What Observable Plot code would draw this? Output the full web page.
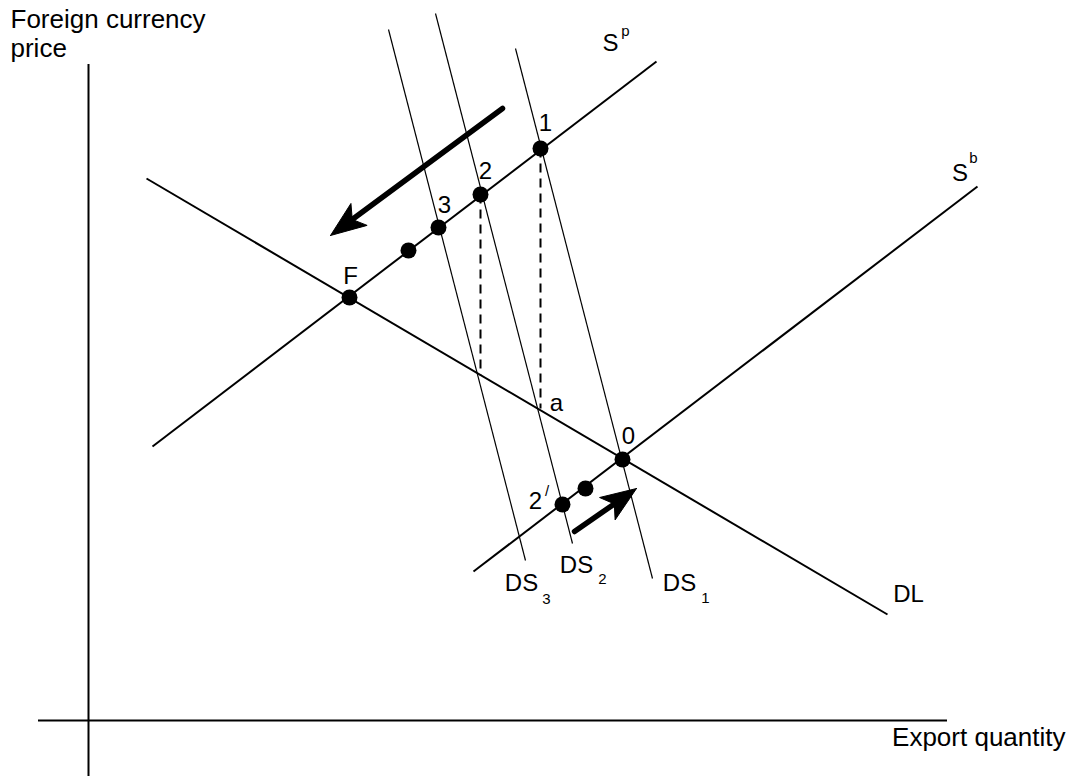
<!DOCTYPE html>
<html><head><meta charset="utf-8">
<script src="https://cdn.jsdelivr.net/npm/d3@7"></script>
<script src="https://cdn.jsdelivr.net/npm/@observablehq/plot@0.6"></script>
<style>html,body{margin:0;padding:0;background:#fff;} svg{display:block}</style>
</head><body><div id="chart"></div>
<script>
// Axes (quantity Q horizontal, foreign-currency price P vertical)
const axisQRange = [-50, 859];
const axisPRange = [-56, 656];

// Curves: endpoints in (Q, P)
const curveNames = ["Sp", "Sb", "DL", "DS1", "DS2", "DS3"];
const curveQ1 = [64, 385, 58, 427, 347, 300];
const curveP1 = [274, 149, 542, 672, 707, 691];
const curveQ2 = [568, 889, 799, 564, 484, 437];
const curveP2 = [659, 534, 106, 142, 177, 160];

// Equilibrium points
const pointNames = ["1", "2", "3", "2b", "F", "0", "0b", "2'"];
const pointQ = [452, 392, 350, 320, 261, 534, 497, 474];
const pointP = [572, 526, 493, 470, 423, 261, 232, 216];

// Dashed drops from points 2 and 1 to DL
const dropQ = [392, 452];
const dropTop = [526, 572];
const dropBottom = [345, 312];

// Movement arrows
const arrowQ1 = [414, 486];
const arrowP1 = [612, 189];
const arrowQ2 = [242, 548];
const arrowP2 = [485, 232];

// Labels
const labelText = ["1", "2", "3", "F", "a", "0", "2", "DS", "DS", "DS", "DL", "S", "S"];
const labelQ = [457, 397, 356, 262, 468, 540, 447, 433, 488, 591, 820, 522, 871.5];
const labelP = [590, 542, 508, 437, 310, 277, 212, 130, 148, 130, 119, 670, 540];

const smallText = ["/", "3", "2", "1", "p", "b"];
const smallQ = [458.5, 458, 514, 617, 537, 885];
const smallP = [225, 117, 137, 118, 685, 558];

const titleText = ["Foreign currency", "price", "Export quantity"];
const titleQ = [-78, -78, 977];
const titleP = [693, 664, -25];
const titleAnchor = ["start", "start", "end"];

// Build tables
const curves = curveNames.map((n, i) => ({name: n, q1: curveQ1[i], p1: curveP1[i], q2: curveQ2[i], p2: curveP2[i], thin: n.startsWith("DS")}));
const points = pointNames.map((n, i) => ({name: n, q: pointQ[i], p: pointP[i]}));
const drops = dropQ.map((q, i) => ({q, top: dropTop[i], bottom: dropBottom[i]}));
const labels = labelText.map((t, i) => ({t, q: labelQ[i], p: labelP[i]}));
const smalls = smallText.map((t, i) => ({t, q: smallQ[i], p: smallP[i]}));
const titles = titleText.map((t, i) => ({t, q: titleQ[i], p: titleP[i], a: titleAnchor[i]}));

// Arrow heads (scale is 1 data unit per pixel on both axes)
const headLen = 38, headHalf = 21 * Math.PI / 180, notch = 27;
const shafts = [], heads = [];
arrowQ1.forEach((q1, i) => {
  const tx = arrowQ2[i], ty = arrowP2[i];
  const dx = q1 - tx, dy = arrowP1[i] - ty, len = Math.hypot(dx, dy);
  const ux = dx / len, uy = dy / len, nx = -uy, ny = ux;
  const c = Math.cos(headHalf), s = Math.sin(headHalf);
  shafts.push({q1, p1: arrowP1[i], q2: tx + notch * ux, p2: ty + notch * uy});
  const poly = [
    [tx, ty],
    [tx + headLen * (c * ux + s * nx), ty + headLen * (c * uy + s * ny)],
    [tx + notch * ux, ty + notch * uy],
    [tx + headLen * (c * ux - s * nx), ty + headLen * (c * uy - s * ny)],
    [tx, ty]
  ];
  poly.forEach(([q, p]) => heads.push({id: i, q, p}));
});

const plot = Plot.plot({
  width: 1075, height: 778, margin: 0,
  x: {domain: [-88, 987], range: [0, 1075], axis: null},
  y: {domain: [-58, 720], range: [778, 0], axis: null},
  style: {fontFamily: "'Liberation Sans', Arial, sans-serif", background: "white", color: "black"},
  marks: [
    Plot.ruleX([0], {y1: axisPRange[0], y2: axisPRange[1], stroke: "black", strokeWidth: 2}),
    Plot.ruleY([0], {x1: axisQRange[0], x2: axisQRange[1], stroke: "black", strokeWidth: 2}),
    Plot.link(curves.filter(d => d.thin), {x1: "q1", y1: "p1", x2: "q2", y2: "p2", stroke: "black", strokeWidth: 1.2}),
    Plot.link(curves.filter(d => !d.thin), {x1: "q1", y1: "p1", x2: "q2", y2: "p2", stroke: "black", strokeWidth: 2}),
    Plot.link(drops, {x1: "q", y1: "top", x2: "q", y2: "bottom", stroke: "black", strokeWidth: 2, strokeDasharray: "9,6"}),
    Plot.link(shafts, {x1: "q1", y1: "p1", x2: "q2", y2: "p2", stroke: "black", strokeWidth: 5.5, strokeLinecap: "round"}),
    Plot.line(heads, {x: "q", y: "p", z: "id", fill: "black", stroke: "black", strokeWidth: 1, curve: "linear"}),
    Plot.dot(points, {x: "q", y: "p", r: 8, fill: "black", stroke: "none"}),
    Plot.text(labels, {x: "q", y: "p", text: "t", fontSize: 24, textAnchor: "middle", lineAnchor: "bottom", fill: "black"}),
    Plot.text(smalls, {x: "q", y: "p", text: "t", fontSize: 15, textAnchor: "middle", lineAnchor: "bottom", fill: "black"}),
    Plot.text(titles.filter(d => d.a === "start"), {x: "q", y: "p", text: "t", fontSize: 26, textAnchor: "start", lineAnchor: "bottom", fill: "black"}),
    Plot.text(titles.filter(d => d.a === "end"), {x: "q", y: "p", text: "t", fontSize: 26, textAnchor: "end", lineAnchor: "bottom", fill: "black"})
  ]
});
document.getElementById("chart").appendChild(plot);
</script>
</body></html>
